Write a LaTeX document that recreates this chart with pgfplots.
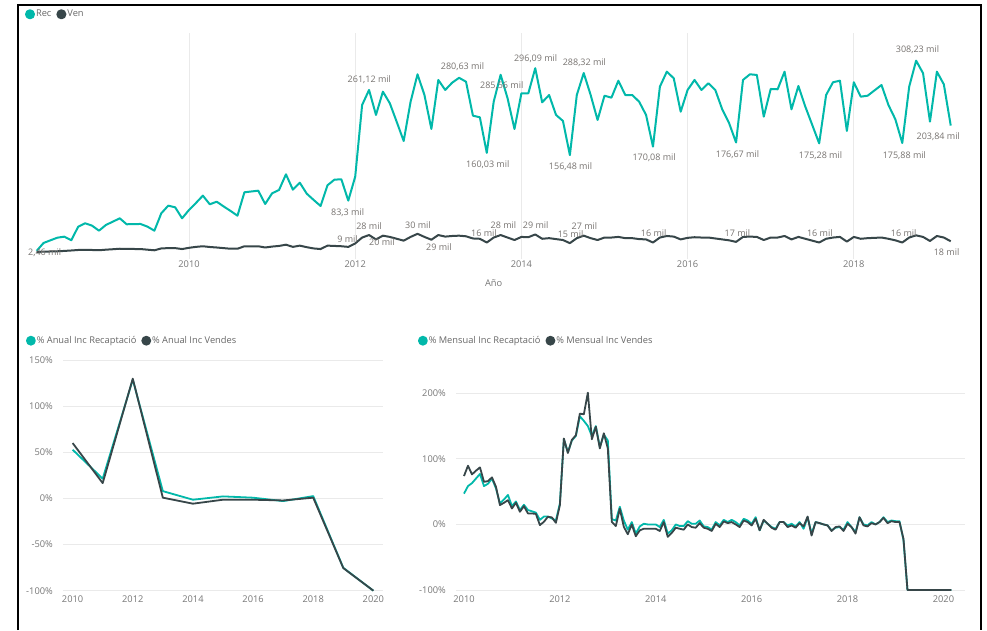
\documentclass[border=0pt]{standalone}
\usepackage{fontspec}
\setmainfont{Open Sans}
\usepackage{pgfplots}
\usepackage{pgfplotstable}
\pgfplotsset{compat=1.18}
\definecolor{pbteal}{HTML}{01B8AA}
\definecolor{pbdark}{HTML}{374649}
\definecolor{tickc}{HTML}{777777}
\definecolor{gridc}{HTML}{EAEAEA}
\definecolor{lblc}{HTML}{666666}
\definecolor{dlc}{HTML}{777370}

\pgfplotstableread{
m rec ven
-22 2.6 1
-21 15.3 1.3
-20 19.6 1.6
-19 23.8 1.9
-18 25.4 2.5
-17 19.6 3.2
-16 41.5 4
-15 46.9 4.3
-14 43.1 4
-13 35.0 3.6
-12 44.2 4.5
-11 49.5 5.2
-10 54.9 6
-9 45.3 5.8
-8 45.6 5.6
-7 45.8 5.5
-6 41.5 4.5
-5 35.0 3.5
-4 63.0 6.5
-3 75.2 7
-2 72.6 7
-1 54.9 5.5
0 68.3 7.5
1 79.5 9
2 91.3 10
3 77.4 8.8
4 81.6 8
5 74 7
6 66.7 6
7 59.1 6
8 96.7 10
9 98 10
10 99.3 10
11 77.9 8
12 95.1 9.5
13 100.4 10.5
14 125.6 12.5
15 100.9 9
16 112.1 11
17 94.5 8.5
18 84.4 6.5
19 74.7 5.5
20 108 11
21 117 10.5
22 117.6 10
23 83.3 9
24 121.8 14.5
25 237 24
26 261.12 28
27 221 21
28 258.4 27
29 239.7 25
30 209.7 22
31 179.1 19
32 242.3 25
33 286.3 30
34 253 25
35 198.4 20.5
36 277.2 28
37 261.1 25.5
38 272.8 26.5
39 280.63 27
40 274.4 26
41 219.8 22.5
42 217.2 22
43 160.03 16
44 242.3 24
45 285.56 28
46 247.8 24
47 198.4 20
48 255.8 25
49 255.8 24.5
50 296.09 29
51 241.3 22
52 253 23
53 221 21.5
54 211.3 20
55 156.48 15
56 253 23
57 288.32 27
58 253 23
59 212.9 20
60 251.9 24
61 248.7 24
62 276 25
63 253 23
64 253 23
65 242.3 21.5
66 221 21
67 170.08 16
68 266.4 24
69 290.5 26.5
70 279.9 25.5
71 226.2 21
72 261.1 23.5
73 277.2 24.5
74 261.1 24
75 271.9 24
76 261.1 22.5
77 230 21
78 207.6 19.5
79 176.67 17
80 277.2 25
81 286.3 25.5
82 285.2 25
83 218.2 20
84 262.7 24
85 262.2 24
86 290.5 26.5
87 230 21
88 267.5 25
89 234.3 22
90 204.9 19
91 175.28 16
92 253 22
93 273.5 24
94 276 25
95 195.2 17.5
96 273.5 25
97 250.3 22
98 251.9 23
99 260.5 23.5
100 269.1 24
101 237 22
102 214 19.5
103 175.88 16
104 266.4 24
105 308.23 27.5
106 288 25
107 210.2 18.5
108 290.5 26.5
109 270.2 24
110 203.84 18
}\monthly

\pgfplotstableread{
year rec ven
2010 52.8 60
2011 21.4 16.6
2012 128.7 129.8
2013 7.9 0.8
2014 -1.4 -5.7
2015 2.2 -1.4
2016 0.8 -1.4
2017 -2.9 -2.2
2018 2.5 0.8
2019 -75.2 -75.5
2020 -100 -100
}\annual

\pgfplotstableread{
m rec ven
0 47 73.8
1 58.5 89.6
2 63 76.3
3 70 82
4 77 87
5 58.5 65
6 62 66
7 70 71.8
8 55 57.5
9 32 29.5
10 38 33
11 45 37
12 28 24.4
13 35 33
14 22 19.3
15 30 28
16 22 16.8
17 20 16.8
18 18 16
19 7 -1
20 12 4
21 12 11.7
22 9 10.7
23 6 2.5
24 32 29.5
25 130 131
26 110 109
27 128 129
28 135 136
29 165 169
30 158 168
31 150 201
32 135 130
33 150 149
34 118 116
35 137 139
36 128 116
37 8 4
38 6 -2.5
39 27 24
40 6 -3.6
41 -8 -15
42 3.6 0
43 -14 -18
44 -3 -9
45 1 -6.6
46 0 -6.6
47 0 -6.6
48 0 -6.6
49 -4 -10
50 7 3.6
51 -14 -19
52 -9 -13
53 0 -5
54 -2.5 -6.6
55 -2.5 -8
56 5 0
57 1 -4
58 1 -5
59 6 2
60 -3 -5
61 -4 -6.6
62 -8 -10
63 3.6 1
64 -1.5 -4
65 7 4.6
66 3.6 2
67 7 3.6
68 3.6 0
69 -1.5 -4
70 8.6 6
71 6 3.6
72 1 -1.5
73 11 8.6
74 -9 -9
75 6 7
76 1 1
77 -4 -5
78 -6.6 -8
79 3.6 3.6
80 3.6 3.6
81 -1.5 -4
82 1 -1.5
83 -3 -5
84 3.6 2
85 -6.6 -3
86 11 12
87 -14 -17
88 3.6 3.6
89 2 2
90 0 0
91 -1.5 -1.5
92 -9 -10
93 -5 -4
94 -4 -3
95 -8 -10
96 3.6 1
97 -4 -4
98 -11.7 -14
99 11 11
100 0 -1.5
101 -1.5 -3
102 3.6 2
103 0 0
104 3.6 3.6
105 11 10
106 3.6 2
107 6 5
108 5 3.6
109 5 3.6
110 -24 -22
111 -100 -100
112 -100 -100
113 -100 -100
114 -100 -100
115 -100 -100
116 -100 -100
117 -100 -100
118 -100 -100
119 -100 -100
120 -100 -100
121 -100 -100
122 -100 -100
}\mensual

\pgfplotsset{
  pbi/.style={
    scale only axis,
    clip=false,
    axis line style={draw=none},
    major tick length=0pt,
    tick label style={font=\fontsize{9.3}{11}\selectfont, text=tickc},
    /pgf/number format/assume math mode=true,
    grid style={color=gridc, line width=0.8pt},
    legend style={draw=none, fill=none, font=\fontsize{9.3}{11}\selectfont,
      text=lblc, legend columns=-1, inner sep=0pt, outer sep=0pt,
      nodes={inner sep=1pt},
      /tikz/every even column/.append style={column sep=4pt}},
    legend image code/.code={\fill[##1] (3.5pt,0pt) circle (4pt);},
  },
}
\tikzset{dl/.style={font=\fontsize{9}{10}\selectfont, text=dlc, inner sep=0pt}}

\begin{document}
\begin{tikzpicture}[x=1pt,y=1pt]
\path[use as bounding box] (0,0) rectangle (987,630);

% ---------------- top chart ----------------
\begin{axis}[pbi,
  at={(33.2pt,371.3pt)}, anchor=south west,
  width=921pt, height=225.3pt,
  xmin=-22.5, xmax=110.5, ymin=-10, ymax=352,
  xtick={0,24,48,72,96}, xticklabels={2010,2012,2014,2016,2018},
  ytick=\empty,
  xmajorgrids,
  xticklabel style={anchor=north, inner sep=0pt, yshift=-1.5pt},
  xlabel={Año},
  xlabel style={at={(axis description cs:0.5,-0.108)}, anchor=center,
    font=\fontsize{9.3}{11}\selectfont, text=tickc},
  legend style={at={(axis description cs:-0.0089,1.0848)}, anchor=west},
]
\addplot[color=pbteal, line width=2pt, line join=round] table[x=m, y=rec] {\monthly};
\addlegendentry{Rec}
\addplot[color=pbdark, line width=2pt, line join=round] table[x=m, y=ven] {\monthly};
\addlegendentry{Ven}

\node[dl] at (axis cs:-20.84,-0.3) {2,46 mil};
\node[dl] at (axis cs:22.9,64.3) {83,3 mil};
\node[dl] at (axis cs:26.04,278) {261,12 mil};
\node[dl] at (axis cs:39.5,299.2) {280,63 mil};
\node[dl] at (axis cs:45.16,267.5) {285,56 mil};
\node[dl] at (axis cs:43.15,140.6) {160,03 mil};
\node[dl] at (axis cs:50.06,312) {296,09 mil};
\node[dl] at (axis cs:57.1,304.5) {288,32 mil};
\node[dl] at (axis cs:55.1,137.9) {156,48 mil};
\node[dl] at (axis cs:67.17,151.8) {170,08 mil};
\node[dl] at (axis cs:79.2,156.7) {176,67 mil};
\node[dl] at (axis cs:91.2,155.5) {175,28 mil};
\node[dl] at (axis cs:103.3,155.5) {175,88 mil};
\node[dl] at (axis cs:105.2,325.4) {308,23 mil};
\node[dl] at (axis cs:108.2,186) {203,84 mil};

\node[dl] at (axis cs:22.9,22) {9 mil};
\node[dl] at (axis cs:26,43.1) {28 mil};
\node[dl] at (axis cs:27.87,17.4) {20 mil};
\node[dl] at (axis cs:33.07,44.7) {30 mil};
\node[dl] at (axis cs:36.1,8.8) {29 mil};
\node[dl] at (axis cs:42.6,31.5) {16 mil};
\node[dl] at (axis cs:45.4,44.2) {28 mil};
\node[dl] at (axis cs:50.06,43.7) {29 mil};
\node[dl] at (axis cs:55.1,30.2) {15 mil};
\node[dl] at (axis cs:57.1,42.1) {27 mil};
\node[dl] at (axis cs:67.1,31.8) {16 mil};
\node[dl] at (axis cs:79.2,31.8) {17 mil};
\node[dl] at (axis cs:91.1,31.8) {16 mil};
\node[dl] at (axis cs:103.2,31.8) {16 mil};
\node[dl] at (axis cs:109.4,1.3) {18 mil};
\end{axis}

% ---------------- bottom left ----------------
\begin{axis}[pbi,
  at={(63pt,39.3pt)}, anchor=south west,
  width=320pt, height=230.7pt,
  xmin=2009.68, xmax=2020.32, ymin=-100, ymax=150,
  xtick={2010,2012,2014,2016,2018,2020},
  xticklabels={2010,2012,2014,2016,2018,2020},
  ytick={-100,-50,0,50,100,150},
  yticklabels={-100\%,-50\%,0\%,50\%,100\%,150\%},
  ymajorgrids,
  xticklabel style={anchor=north, inner sep=0pt, yshift=-5.3pt},
  yticklabel style={anchor=east, inner sep=0pt, xshift=-10pt},
  legend style={at={(axis description cs:-0.1156,1.0837)}, anchor=west},
]
\addplot[color=pbteal, line width=1.8pt, line join=round] table[x=year, y=rec] {\annual};
\addlegendentry{\% Anual Inc Recaptació}
\addplot[color=pbdark, line width=1.8pt, line join=round] table[x=year, y=ven] {\annual};
\addlegendentry{\% Anual Inc Vendes}
\end{axis}

% ---------------- bottom right ----------------
\begin{axis}[pbi,
  at={(456pt,40pt)}, anchor=south west,
  width=509pt, height=196.7pt,
  xmin=-2.0, xmax=125.4, ymin=-100, ymax=200,
  xtick={0,24,48,72,96,120},
  xticklabels={2010,2012,2014,2016,2018,2020},
  ytick={-100,0,100,200},
  yticklabels={-100\%,0\%,100\%,200\%},
  ymajorgrids,
  xticklabel style={anchor=north, inner sep=0pt, yshift=-6pt},
  yticklabel style={anchor=east, inner sep=0pt, xshift=-10pt},
  legend style={at={(axis description cs:-0.0747,1.2674)}, anchor=west},
]
\addplot[color=pbteal, line width=1.8pt, line join=round] table[x=m, y=rec] {\mensual};
\addlegendentry{\% Mensual Inc Recaptació}
\addplot[color=pbdark, line width=1.8pt, line join=round] table[x=m, y=ven] {\mensual};
\addlegendentry{\% Mensual Inc Vendes}
\end{axis}

% frame
\draw[black, line width=2pt] (18,0) -- (18,625) -- (981,625) -- (981,0);
\end{tikzpicture}
\end{document}
